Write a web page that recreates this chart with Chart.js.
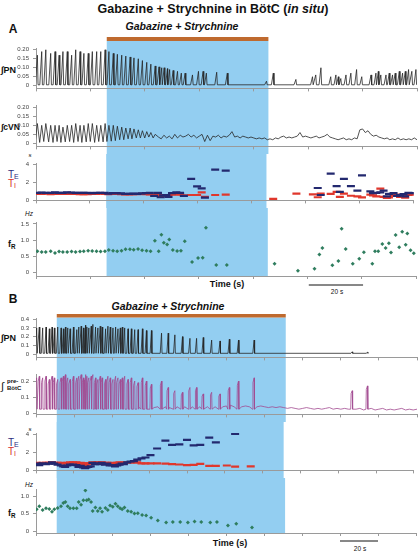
<!DOCTYPE html>
<html>
<head>
<meta charset="utf-8">
<script src="https://cdn.jsdelivr.net/npm/chart.js@4.4.1/dist/chart.umd.min.js"></script>
<style>
body { margin: 0; background: #fff; font-family: "Liberation Sans", Arial, sans-serif; }
#fig { position: relative; width: 420px; height: 552px; overflow: hidden; }
#fig canvas { position: absolute; left: 0; }
.t { position: absolute; white-space: nowrap; line-height: 1; color: #111; }
.c { transform: translate(-50%, -50%); }
.l { transform: translateY(-50%); }
.t sub { font-size: 70%; vertical-align: -0.25em; }
</style>
</head>
<body>
<div id="fig">
  <div class="t c" style="left:213px;top:9px;font-weight:bold;font-size:12.5px">Gabazine + Strychnine in BötC (<i>in situ</i>)</div>
  <div class="t c" style="left:13px;top:29px;font-weight:bold;font-size:12px">A</div>
  <div class="t c" style="left:182px;top:26px;font-weight:bold;font-style:italic;font-size:10.5px">Gabazine + Strychnine</div>
  <div class="t l" style="left:1px;top:70px;font-weight:bold;font-size:9px">∫PN</div>
  <div class="t l" style="left:1px;top:127px;font-weight:bold;font-size:8.5px">∫cVN</div>
  <div class="t c" style="left:30px;top:155px;font-style:italic;font-size:6px">s</div>
  <div class="t l" style="left:8px;top:175px;font-size:10px;color:#2b2d7e">T<sub>E</sub></div>
  <div class="t l" style="left:8px;top:184px;font-size:10px;color:#d7302a">T<sub>I</sub></div>
  <div class="t c" style="left:29px;top:214px;font-style:italic;font-size:6.5px">Hz</div>
  <div class="t l" style="left:8px;top:245px;font-weight:bold;font-size:9px">f<sub>R</sub></div>
  <div class="t c" style="left:227px;top:284px;font-weight:bold;font-size:9px">Time (s)</div>
  <div class="t c" style="left:337px;top:292px;font-size:6.5px">20 s</div>

  <div class="t c" style="left:13px;top:299px;font-weight:bold;font-size:12px">B</div>
  <div class="t c" style="left:168px;top:306px;font-weight:bold;font-style:italic;font-size:10.5px">Gabazine + Strychnine</div>
  <div class="t l" style="left:1px;top:338px;font-weight:bold;font-size:9px">∫PN</div>
  <div class="t l" style="left:1px;top:386px;font-size:11px">∫</div>
  <div class="t l" style="left:7px;top:385px;font-weight:bold;font-size:6px;line-height:1.1">pre-<br>BötC</div>
  <div class="t c" style="left:30px;top:429px;font-style:italic;font-size:6px">s</div>
  <div class="t l" style="left:8px;top:443px;font-size:10px;color:#2b2d7e">T<sub>E</sub></div>
  <div class="t l" style="left:8px;top:452px;font-size:10px;color:#d7302a">T<sub>I</sub></div>
  <div class="t c" style="left:29px;top:485px;font-style:italic;font-size:6.5px">Hz</div>
  <div class="t l" style="left:8px;top:514px;font-weight:bold;font-size:9px">f<sub>R</sub></div>
  <div class="t c" style="left:230px;top:543px;font-weight:bold;font-size:9px">Time (s)</div>
  <div class="t c" style="left:360px;top:549px;font-size:6.5px">20 s</div>
</div>
<script>
// ---------- panel A (time in s) ----------
var spanA = [0, 140];
var drugA = [26, 85.4];
var scaleBarA = [100.5, 120.5];

var fRTimesA = [0.5, 2.1, 3.6, 5.4, 7.0, 8.5, 9.9, 11.5, 13.1, 14.6, 16.2, 17.6, 19.2, 20.7, 22.3, 23.8, 25.4,
    26.8, 28.4, 29.9, 31.5, 33.0, 34.6, 36.0, 37.6, 39.1, 40.7, 42.2, 43.8, 45.2, 46.2, 47.1, 48.3, 49.1, 50.4,
    52.0, 53.4, 54.8, 57.5, 59.7, 61.4, 62.6, 66.4, 70.3,
    87.9, 96.5, 102.6, 104.4, 105.5, 109.2, 111.4, 112.6, 114.1, 116.7, 119.1, 120.8, 123.9, 124.9, 126.1,
    127.6, 128.8, 130.0, 130.8, 132.5, 133.8, 134.9, 136.2, 136.8, 138.0, 139.2];
var fRA = [0.66, 0.64, 0.64, 0.66, 0.61, 0.65, 0.64, 0.64, 0.65, 0.64, 0.65, 0.66, 0.68, 0.67, 0.66, 0.65, 0.66,
    0.70, 0.68, 0.66, 0.68, 0.72, 0.72, 0.71, 0.73, 0.69, 0.68, 0.66, 0.98, 0.66, 1.17, 0.92, 0.87, 1.02, 0.70,
    0.67, 0.68, 0.97, 0.33, 0.45, 0.46, 1.38, 0.24, 0.24,
    0.28, 0.06, 0.12, 0.56, 0.76, 0.23, 0.36, 1.35, 0.73, 0.28, 0.43, 0.63, 0.28, 0.66, 0.66,
    0.88, 0.76, 0.91, 0.62, 1.16, 0.78, 1.26, 0.86, 1.21, 0.69, 0.60];
var teA = [0.85, 0.88, 0.85, 0.85, 0.9, 0.85, 0.85, 0.9, 0.88, 0.85, 0.85, 0.85, 0.85, 0.82, 0.85, 0.85, 0.85,
    0.75, 0.8, 0.8, 0.78, 0.72, 0.72, 0.75, 0.72, 0.78, 0.8, 0.85, 0.5, 0.85, 0.35, 0.55, 0.6, 0.4, 0.8,
    0.9, 0.85, 0.5, 2.41, 1.56, 1.35, 0.3, 3.43, 3.32,
    null, null, null, 1.38, 0.6, 2.98, 1.6, 0.96, 2.4, 1.6, 1.1, 2.78, 1.0, 0.8, 0.85,
    0.9, 1.08, 0.45, 0.72, 0.82, 0.5, 0.6, 0.7, 0.45, 0.85, 0.8];
var tiA = [0.72, 0.72, 0.74, 0.7, 0.72, 0.72, 0.72, 0.72, 0.72, 0.72, 0.7, 0.7, 0.7, 0.72, 0.72, 0.74, 0.72,
    0.7, 0.72, 0.72, 0.7, 0.68, 0.68, 0.7, 0.7, 0.72, 0.7, 0.68, 0.55, 0.65, 0.5, 0.6, 0.55, 0.6, 0.65,
    0.7, 0.65, 0.55, 0.6, 0.6, 0.9, 0.4, 0.6, 0.65,
    0.17, 0.75, 0.68, 0.35, 0.75, 0.72, 0.96, 0.4, 0.76, 0.52, 0.44, 0.33, 0.65, 0.57, 0.45,
    1.32, 0.4, 0.27, 0.33, 0.52, 0.65, 0.4, 0.55, 0.3, 0.6, 0.65];

// integrated phrenic bursts: peak time and peak height
var pnTimesA = fRTimesA.slice(0, 44).concat([84.7, 87.2, 95.5, 101.6, 102.8, 104.7, 108.3, 110.2, 111.1, 112.0,
    113.9, 115.7, 117.8, 119.7, 123.1, 124.9, 125.8, 126.7, 128.6, 129.8, 131.0, 132.0, 133.5, 134.7, 135.7,
    136.9, 138.1, 139.6]);
var pnA = [0.17, 0.19, 0.20, 0.18, 0.19, 0.17, 0.19, 0.19, 0.17, 0.20, 0.19, 0.18, 0.18, 0.19, 0.19, 0.19, 0.20,
    0.19, 0.18, 0.175, 0.17, 0.165, 0.16, 0.155, 0.15, 0.14, 0.13, 0.12, 0.11, 0.105, 0.10, 0.10, 0.095, 0.09,
    0.085, 0.08, 0.07, 0.07, 0.06, 0.08, 0.08, 0.07, 0.075, 0.07,
    0.025, 0.07, 0.035, 0.05, 0.06, 0.1, 0.05, 0.06, 0.05, 0.04, 0.06, 0.07, 0.09, 0.05, 0.06, 0.07, 0.08,
    0.06, 0.06, 0.07, 0.06, 0.07, 0.08, 0.07, 0.08, 0.09, 0.08, 0.09];
var pnBaseA = 0.005;

// cVN: oscillating part (peak / trough per breath), then the flat noisy part sampled every second
var cvnTimesA = fRTimesA.slice(0, 29);
var cvnPeakA = [0.11, 0.10, 0.11, 0.10, 0.10, 0.10, 0.09, 0.10, 0.10, 0.11, 0.10, 0.10, 0.11, 0.11, 0.10, 0.10, 0.11,
    0.10, 0.10, 0.095, 0.09, 0.085, 0.085, 0.08, 0.075, 0.07, 0.065, 0.06, 0.05];
var cvnTroughA = [0.01, 0.005, 0.01, 0.008, 0.005, 0.01, 0.005, 0.008, 0.01, 0.005, 0.01, 0.005, 0.008, 0.01, 0.005, 0.01, 0.008,
    0.01, 0.012, 0.015, 0.02, 0.02, 0.025, 0.025, 0.03, 0.03, 0.03, 0.035, 0.03];
var cvnNoiseStartA = 45;
var cvnNoiseA = [0.035, 0.025, 0.045, 0.03, 0.04, 0.025, 0.05, 0.03, 0.045, 0.035,
    0.04, 0.05, 0.035, 0.045, 0.03, 0.04, 0.05, 0.01, 0.045, 0.015,
    0.04, 0.035, 0.045, 0.03, 0.04, 0.035, 0.045, 0.065, 0.035, 0.04,
    0.03, 0.04, 0.035, 0.03, 0.035, 0.03, 0.025, 0.03, 0.025, 0.03,
    0.02, 0.025, 0.02, 0.03, 0.025, 0.035, 0.04, 0.03, 0.035, 0.03,
    0.035, 0.04, 0.06, 0.035, 0.04, 0.035, 0.03, 0.035, 0.04, 0.03,
    0.035, 0.04, 0.05, 0.035, 0.03, 0.025, 0.02, 0.025, 0.03, 0.02,
    0.025, 0.02, 0.03, 0.025, 0.075, 0.08, 0.06, 0.07, 0.05, 0.04,
    0.045, 0.035, 0.03, 0.025, 0.03, 0.02, 0.025, 0.02, 0.03, 0.02,
    0.025, 0.02, 0.025, 0.02, 0.03, 0.02];

// ---------- panel B ----------
var spanB = [0, 200];
var drugB = [10.9, 131.1];
var scaleBarB = [160, 180];

var fRTimesB = [0.35, 1.74, 3.50, 5.26, 7.01, 8.42, 9.65, 11.40, 13.16, 14.39, 15.45, 16.67, 17.91, 19.66,
    21.42, 22.47, 23.71, 24.93, 25.99, 26.69, 27.74, 28.98, 29.85, 31.26, 32.49, 33.72, 34.78, 36.53, 37.76,
    38.99, 40.40, 41.80, 43.03, 44.26, 45.32, 46.55, 48.30, 50.06, 51.82, 53.57, 55.86, 57.97, 60.60, 64.11,
    68.50, 72.02, 75.89, 79.93, 83.45, 86.96, 91.71, 95.22, 101.02, 105.41, 113.67];
var fRB = [0.62, 0.71, 0.60, 0.65, 0.63, 0.55, 0.62, 0.66, 0.71, 0.80,
    0.83, 0.71, 0.65, 0.65, 0.65, 0.83, 0.75, 0.88, 1.16, 0.88,
    0.90, 0.83, 0.57, 0.67, 0.57, 0.65, 0.55, 0.66, 0.60, 0.73,
    0.69, 0.78, 0.71, 0.65, 0.62, 0.67, 0.57, 0.55, 0.50, 0.51,
    0.46, 0.44, 0.38, 0.30, 0.24, 0.26, 0.26, 0.24, 0.27, 0.26,
    0.24, 0.26, 0.16, 0.21, 0.10];
var teB = [0.75, 0.6, 0.8, 0.7, 0.75, 0.9, 0.75, 0.65, 0.55, 0.45,
    0.4, 0.55, 0.65, 0.65, 0.6, 0.4, 0.5, 0.35, 0.25, 0.35,
    0.4, 0.45, 0.85, 0.7, 0.8, 0.7, 0.85, 0.65, 0.75, 0.55,
    0.6, 0.45, 0.55, 0.65, 0.75, 0.7, 0.9, 1.0, 1.05, 1.2,
    1.36, 1.45, 1.71, 2.46, 3.35, 2.87, 2.92, 3.42, 2.8, 2.87,
    3.69, 3.15, null, 4.1, null];
var tiB = [0.85, 0.8, 0.85, 0.85, 0.85, 0.9, 0.85, 0.85, 0.85, 0.8,
    0.8, 0.85, 0.9, 0.9, 0.9, 0.8, 0.85, 0.75, 0.6, 0.8,
    0.75, 0.8, 0.9, 0.85, 0.9, 0.85, 0.9, 0.85, 0.85, 0.8,
    0.85, 0.8, 0.85, 0.9, 0.85, 0.85, 0.9, 0.9, 0.9, 0.9,
    0.8, 0.8, 0.8, 0.8, 0.76, 0.7, 0.66, 0.6, 0.62, 0.73,
    0.5, 0.5, 0.55, 0.43, 0.45];

var pnTimesB = fRTimesB.slice(0, 43).concat([65.9, 69.4, 72.9, 76.9, 80.8, 84.3, 87.8, 92.2, 96.6, 101.5,
    106.3, 114.5, 166, 174]);
var pnB = [0.30, 0.31, 0.30, 0.31, 0.29, 0.31, 0.30, 0.31, 0.30, 0.29,
    0.31, 0.30, 0.29, 0.31, 0.28, 0.31, 0.32, 0.30, 0.33, 0.31,
    0.30, 0.32, 0.34, 0.31, 0.30, 0.32, 0.31, 0.29, 0.32, 0.31,
    0.30, 0.31, 0.29, 0.30, 0.31, 0.30, 0.29, 0.29, 0.28, 0.28,
    0.29, 0.27, 0.27,
    0.24, 0.24, 0.22, 0.20, 0.18, 0.18, 0.19, 0.16, 0.15, 0.17, 0.16, 0.16, 0.025, 0.02];
var pnBaseB = 0.008;

var preB = [0.22, 0.23, 0.22, 0.23, 0.21, 0.23, 0.22, 0.21, 0.22, 0.23,
    0.24, 0.22, 0.21, 0.23, 0.22, 0.23, 0.24, 0.22, 0.24, 0.23,
    0.22, 0.23, 0.24, 0.22, 0.21, 0.23, 0.22, 0.21, 0.23, 0.22,
    0.21, 0.23, 0.22, 0.21, 0.22, 0.23, 0.21, 0.22, 0.20, 0.19,
    0.22, 0.20, 0.18,
    0.20, 0.16, 0.14, 0.13, 0.16, 0.16, 0.12, 0.13, 0.12, 0.16, 0.20, 0.22, 0.14, 0.17];
var preBaseB = 0.025;
var preNoiseStartB = 48;
var preNoiseB = [0.03, 0.035, 0.03, 0.04, 0.035, 0.03, 0.04, 0.035, 0.04, 0.03,
    0.04, 0.035, 0.045, 0.04, 0.035, 0.04, 0.045, 0.04, 0.035, 0.04,
    0.045, 0.04, 0.035, 0.04, 0.045, 0.04, 0.045, 0.05, 0.04, 0.045,
    0.04, 0.045, 0.04, 0.035, 0.04, 0.045, 0.04, 0.035, 0.04, 0.035,
    0.04, 0.035, 0.03, 0.035, 0.03, 0.025, 0.03, 0.035, 0.03, 0.025,
    0.03, 0.025, 0.03, 0.035, 0.025, 0.03, 0.025, 0.03, 0.025, 0.03,
    0.025, 0.03, 0.02, 0.025, 0.03, 0.02, 0.025, 0.03, 0.02, 0.025,
    0.02, 0.025, 0.03, 0.02, 0.025, 0.02, 0.025];

// y tick values of each strip
var yTicksPNA = [0, 0.05, 0.10, 0.15, 0.20];
var yTicksCVNA = [0, 0.05, 0.10, 0.15, 0.20];
var yTicksT = [0, 1, 2, 3, 4];
var yTicksFRA = [0, 0.5, 1.0, 1.5];
var yTicksPNB = [0, 0.1, 0.2, 0.3, 0.4];
var yTicksPreB = [0, 0.1, 0.2];
var yTicksFRB = [0, 0.5, 1.0];

// burst shapes: [time offset from peak, fraction of height]
var rampShape = [[-0.7, 0], [0, 1], [0.25, 0]];
var boxShape = [[-0.8, 0], [-0.6, 0.85], [0, 1], [0.2, 0]];

function burstTrace(times, amps, base, shape, noiseStart, noise, step) {
    var pts = [];
    times.forEach(function (t, i) {
        shape.forEach(function (s) {
            pts.push({x: t + s[0], y: base + s[1] * (amps[i] - base)});
        });
    });
    if (noise) {
        noise.forEach(function (v, k) {
            var tn = noiseStart + k * step;
            var inside = times.some(function (t) {
                return tn > t + shape[0][0] - 0.2 && tn < t + shape[shape.length - 1][0] + 0.2;
            });
            if (!inside) pts.push({x: tn, y: v});
        });
    }
    return pts.sort(function (a, b) { return a.x - b.x; });
}

function cvnTrace() {
    var pts = [];
    cvnTimesA.forEach(function (t, i) {
        pts.push({x: t - 0.75, y: cvnTroughA[i]}, {x: t, y: cvnPeakA[i]});
    });
    cvnNoiseA.forEach(function (v, k) { pts.push({x: cvnNoiseStartA + k, y: v}); });
    return pts;
}

function points(times, vals) {
    var out = [];
    times.forEach(function (t, i) { if (vals[i] !== null) out.push({x: t, y: vals[i]}); });
    return out;
}

function traceSet(data, color) {
    return {data: data, borderColor: color, borderWidth: 0.8, pointRadius: 0, tension: 0};
}
function dashSet(data, color) {
    return {data: data, showLine: false, pointStyle: 'line', pointRadius: 4, pointBorderWidth: 2.2,
        pointBorderColor: color, pointBackgroundColor: color};
}
function dotSet(data) {
    return {data: data, showLine: false, pointStyle: 'rectRot', pointRadius: 2, pointBorderWidth: 0,
        pointBackgroundColor: '#2f7d5e', pointBorderColor: '#2f7d5e'};
}

// blue drug band, orange bar and 20 s scale bar
var drugPlugin = {
    id: 'drug',
    beforeDraw: function (chart, args, o) {
        var ctx = chart.ctx, x = chart.scales.x;
        var x0 = x.getPixelForValue(o.range[0]), x1 = x.getPixelForValue(o.range[1]);
        var bottom = o.last ? chart.chartArea.bottom : chart.height;
        ctx.save();
        ctx.fillStyle = '#93cef1';
        ctx.fillRect(x0, o.top, x1 - x0, bottom - o.top);
        if (o.bar) {
            ctx.fillStyle = '#bf6a2f';
            ctx.fillRect(x0, o.bar[0], x1 - x0, o.bar[1] - o.bar[0]);
        }
        ctx.restore();
    },
    afterDraw: function (chart, args, o) {
        if (!o.scaleBar) return;
        var ctx = chart.ctx, x = chart.scales.x;
        var y = chart.chartArea.bottom + o.scaleBarOffset;
        ctx.save();
        ctx.strokeStyle = '#111';
        ctx.lineWidth = 1;
        ctx.beginPath();
        ctx.moveTo(x.getPixelForValue(o.scaleBar[0]), y);
        ctx.lineTo(x.getPixelForValue(o.scaleBar[1]), y);
        ctx.stroke();
        ctx.restore();
    }
};

var fig = document.getElementById('fig');

function strip(cfg) {
    var cv = document.createElement('canvas');
    cv.width = 420;
    cv.height = cfg.h;
    cv.style.top = cfg.top + 'px';
    fig.appendChild(cv);
    return new Chart(cv, {
        type: 'line',
        data: {datasets: cfg.datasets},
        options: {
            responsive: false,
            animation: false,
            events: [],
            layout: {padding: {top: cfg.padTop, right: 3, left: 0, bottom: 0}},
            plugins: {legend: {display: false}, tooltip: {enabled: false}, drug: cfg.drug},
            scales: {
                x: {
                    type: 'linear', min: cfg.span[0], max: cfg.span[1],
                    ticks: {display: false, stepSize: 20},
                    grid: {drawOnChartArea: false, drawTicks: true, tickLength: 3, color: '#9a9a9a'},
                    border: {color: '#9a9a9a'},
                    afterFit: function (s) { s.height = cfg.xh; }
                },
                y: {
                    min: cfg.yr[0], max: cfg.yr[1],
                    afterBuildTicks: function (s) { s.ticks = cfg.yTicks.map(function (v) { return {value: v}; }); },
                    ticks: {
                        font: {size: 6, family: 'Liberation Sans'}, color: '#444', padding: 4,
                        callback: function (v) { return v === 0 ? '0' : v.toFixed(cfg.dec); }
                    },
                    grid: {drawOnChartArea: false, drawTicks: true, tickLength: 3, color: '#9a9a9a'},
                    border: {color: '#9a9a9a'},
                    afterFit: function (s) { s.width = 36; }
                }
            }
        },
        plugins: [drugPlugin]
    });
}

// ---------- A ----------
strip({top: 36, h: 60, padTop: 12, xh: 4, span: spanA, yr: [-0.015, 0.21], yTicks: yTicksPNA, dec: 2,
    drug: {range: drugA, top: 5, bar: [1, 5]},
    datasets: [traceSet(burstTrace(pnTimesA, pnA, pnBaseA, rampShape), '#262626')]});
strip({top: 96, h: 58, padTop: 9, xh: 3, span: spanA, yr: [-0.017, 0.213], yTicks: yTicksCVNA, dec: 2,
    drug: {range: drugA, top: 0},
    datasets: [traceSet(cvnTrace(), '#262626')]});
strip({top: 154, h: 54, padTop: 9, xh: 4, span: spanA, yr: [0, 4.17], yTicks: yTicksT, dec: 0,
    drug: {range: drugA, top: 0},
    datasets: [dashSet(points(fRTimesA, teA), '#23296f'), dashSet(points(fRTimesA, tiA), '#e0372c')]});
strip({top: 208, h: 96, padTop: 14, xh: 28, span: spanA, yr: [-0.1, 1.56], yTicks: yTicksFRA, dec: 1,
    drug: {range: drugA, top: 0, last: true, scaleBar: scaleBarA, scaleBarOffset: 9},
    datasets: [dotSet(points(fRTimesA, fRA))]});

// ---------- B ----------
strip({top: 310, h: 55, padTop: 8, xh: 4, span: spanB, yr: [-0.039, 0.414], yTicks: yTicksPNB, dec: 1,
    drug: {range: drugB, top: 7.5, bar: [4, 7.5]},
    datasets: [traceSet(burstTrace(pnTimesB, pnB, pnBaseB, rampShape), '#262626')]});
strip({top: 365, h: 57, padTop: 9, xh: 4, span: spanB, yr: [-0.0075, 0.244], yTicks: yTicksPreB, dec: 1,
    drug: {range: drugB, top: 0},
    datasets: [traceSet(burstTrace(pnTimesB, preB, preBaseB, boxShape, preNoiseStartB, preNoiseB, 2), '#a24a90')]});
strip({top: 422, h: 56, padTop: 11, xh: 4, span: spanB, yr: [0, 4.2], yTicks: yTicksT, dec: 0,
    drug: {range: drugB, top: 0},
    datasets: [dashSet(points(fRTimesB, teB), '#23296f'), dashSet(points(fRTimesB, tiB), '#e0372c')]});
strip({top: 478, h: 74, padTop: 11, xh: 19, span: spanB, yr: [-0.057, 1.2], yTicks: yTicksFRB, dec: 1,
    drug: {range: drugB, top: 0, last: true, scaleBar: scaleBarB, scaleBarOffset: 8},
    datasets: [dotSet(points(fRTimesB, fRB))]});
</script>
</body>
</html>
